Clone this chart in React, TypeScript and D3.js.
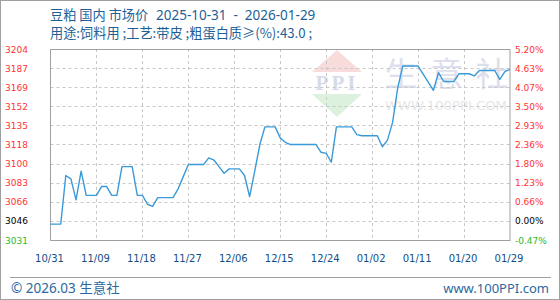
import React from 'react';
import * as d3 from 'd3';

const dates = [
  '2025-10-31', '2025-11-02', '2025-11-03', '2025-11-04', '2025-11-05', '2025-11-06', '2025-11-07',
  '2025-11-09', '2025-11-10', '2025-11-11', '2025-11-12', '2025-11-13', '2025-11-14', '2025-11-16',
  '2025-11-17', '2025-11-18', '2025-11-19', '2025-11-20', '2025-11-21', '2025-11-24', '2025-11-25',
  '2025-11-26', '2025-11-27', '2025-11-30', '2025-12-01', '2025-12-02', '2025-12-03', '2025-12-04',
  '2025-12-05', '2025-12-07', '2025-12-08', '2025-12-09', '2025-12-10', '2025-12-11', '2025-12-12',
  '2025-12-14', '2025-12-15', '2025-12-16', '2025-12-17', '2025-12-22', '2025-12-23', '2025-12-24',
  '2025-12-25', '2025-12-26', '2025-12-29', '2025-12-30', '2025-12-31', '2026-01-03', '2026-01-04',
  '2026-01-05', '2026-01-06', '2026-01-07', '2026-01-08', '2026-01-11', '2026-01-14', '2026-01-15',
  '2026-01-16', '2026-01-18', '2026-01-19', '2026-01-21', '2026-01-22', '2026-01-23', '2026-01-26',
  '2026-01-27', '2026-01-28', '2026-01-29',
];
const prices = [
  3046, 3046, 3090, 3087, 3068, 3094, 3072,
  3072, 3080, 3080, 3072, 3072, 3098, 3098,
  3072, 3072, 3064, 3062, 3070, 3070, 3078,
  3089, 3100, 3100, 3106, 3104, 3098, 3092,
  3096, 3096, 3090, 3071, 3094, 3118, 3134,
  3134, 3124, 3120, 3118, 3118, 3111, 3110,
  3102, 3134, 3134, 3127, 3126, 3126, 3116,
  3122, 3138, 3169, 3189, 3189, 3167, 3183,
  3175, 3175, 3182, 3182, 3180, 3185, 3185,
  3177, 3184, 3186,
];
const leftLabels = ['3031', '3046', '3066', '3083', '3100', '3118', '3135', '3152', '3169', '3187', '3204'];
const rightLabels = ['-0.47%', '0.00%', '0.66%', '1.23%', '1.80%', '2.36%', '2.93%', '3.50%', '4.07%', '4.63%', '5.20%'];
const xTickLabels = ['10/31', '11/09', '11/18', '11/27', '12/06', '12/15', '12/24', '01/02', '01/11', '01/20', '01/29'];
const startDate = '2025-10-31';
const endDate = '2026-01-29';
const basePrice = 3046;
const pctMin = -0.47;
const pctMax = 5.2;
const titleName = '豆粕 国内 市场价';
const titleRange = '2025-10-31  -  2026-01-29';
const titleLine2 = '用途:饲料用 ;工艺:带皮 ;粗蛋白质≥(%):43.0 ;';
const watermarkChars = ['生', '意', '社'];

export default function App() {
  const W = 560;
  const H = 300;
  const parse = d3.timeParse('%Y-%m-%d');
  const d0 = parse(startDate) as Date;
  const d1 = parse(endDate) as Date;
  const left = 50.5;
  const right = 510;
  const top = 49;
  const bottom = 240;
  const x = d3.scaleTime().domain([d0, d1]).range([left, right]);
  const yMin = basePrice * (1 + pctMin / 100);
  const yMax = basePrice * (1 + pctMax / 100);
  const y = d3.scaleLinear().domain([yMin, yMax]).range([bottom, top]);
  const gridVals = d3.range(11).map((k) => yMin + (k * (yMax - yMin)) / 10);
  const tickDates = d3.range(11).map((k) => d3.timeDay.offset(d0, 9 * k));
  const pts = dates.map((d, i) => ({ d: parse(d) as Date, v: prices[i] }));
  const line = d3
    .line<{ d: Date; v: number }>()
    .x((p) => x(p.d))
    .y((p) => y(p.v));

  const colorFor = (i: number) => (i === 0 ? '#2db82d' : i === 1 ? '#000000' : '#ff3333');
  const num = "'DejaVu Sans', Verdana, sans-serif";
  const cjk = "'Noto Sans CJK SC', 'Noto Sans', sans-serif";
  const latin = "'Noto Sans', 'Noto Sans CJK SC', sans-serif";

  return (
    <svg
      width={W}
      height={H}
      style={{ position: 'absolute', left: 0, top: 0, background: '#fff' }}
      xmlns="http://www.w3.org/2000/svg"
    >
      <rect x={0.5} y={0.5} width={W - 1} height={H - 1} fill="#fff" stroke="#a0a0a0" />

      {/* watermark */}
      <g>
        <polygon points="312,72 337,50 362,72" fill="#f8dcdc" />
        <text x={337} y={90} textAnchor="middle" fontFamily="'Liberation Serif', serif" fontWeight="bold" fontSize={21} fill="#d5dbe9" letterSpacing={3}>PPI</text>
        <polygon points="312,94 362,94 337,117" fill="#dcf1de" />
        {watermarkChars.map((c, i) => (
          <text key={c} x={401 + i * 45.5} y={86} textAnchor="middle" fontFamily={cjk} fontSize={33} fill="#dde0ec">{c}</text>
        ))}
        <text x={385} y={110} fontFamily="'DejaVu Sans', sans-serif" fontSize={12} fill="#e6e6e6" textLength={122} lengthAdjust="spacingAndGlyphs">WWW.100PPI.COM</text>
      </g>

      {/* grid */}
      {gridVals.slice(1, 10).map((v, i) => (
        <line key={'h' + i} x1={left} x2={right} y1={Math.round(y(v)) + 0.5} y2={Math.round(y(v)) + 0.5} stroke="#c8c8c8" strokeDasharray="3,3" />
      ))}
      {tickDates.slice(1, 10).map((d, i) => (
        <line key={'v' + i} x1={Math.round(x(d)) + 0.5} x2={Math.round(x(d)) + 0.5} y1={top} y2={bottom} stroke="#c8c8c8" strokeDasharray="3,3" />
      ))}

      {/* frame */}
      <rect x={left} y={top + 0.5} width={right - left} height={bottom - top} fill="none" stroke="#a0a0a0" />

      {/* data */}
      <path d={line(pts) || ''} fill="none" stroke="#3a9ad9" strokeWidth={1.4} strokeLinejoin="round" />

      {/* y labels */}
      {gridVals.map((v, i) => (
        <text key={'l' + i} x={5} y={y(v) + 3.5} fontFamily={num} fontSize={9} fill={colorFor(i)}>{leftLabels[i]}</text>
      ))}
      {gridVals.map((v, i) => (
        <text key={'r' + i} x={515} y={y(v) + 3.5} fontFamily={num} fontSize={9} fill={colorFor(i)}>{rightLabels[i]}</text>
      ))}

      {/* x labels */}
      {tickDates.map((d, i) => (
        <text key={'x' + i} x={x(d) - 1} y={262} textAnchor="middle" fontFamily={num} fontSize={10} fill="#124f85">{xTickLabels[i]}</text>
      ))}

      {/* title */}
      <text x={50} y={20} fontFamily={cjk} fontSize={13.2} fill="#1f5f96">{titleName}</text>
      <text x={156} y={20} fontFamily={latin} fontSize={13.5} fill="#1f5f96" style={{ whiteSpace: 'pre' }}>{titleRange}</text>
      <text x={50} y={38} fontFamily={cjk} fontSize={13.2} fill="#1f5f96">{titleLine2}</text>

      {/* footer */}
      <line x1={10} x2={551} y1={277.5} y2={277.5} stroke="#a0a0a0" />
      <text x={11} y={293} fontFamily={latin} fontSize={13.5} fill="#2c69a1">© 2026.03 生意社</text>
      <text x={549} y={293} textAnchor="end" fontFamily={latin} fontSize={13} fill="#2c69a1">www.100PPI.com</text>
    </svg>
  );
}
